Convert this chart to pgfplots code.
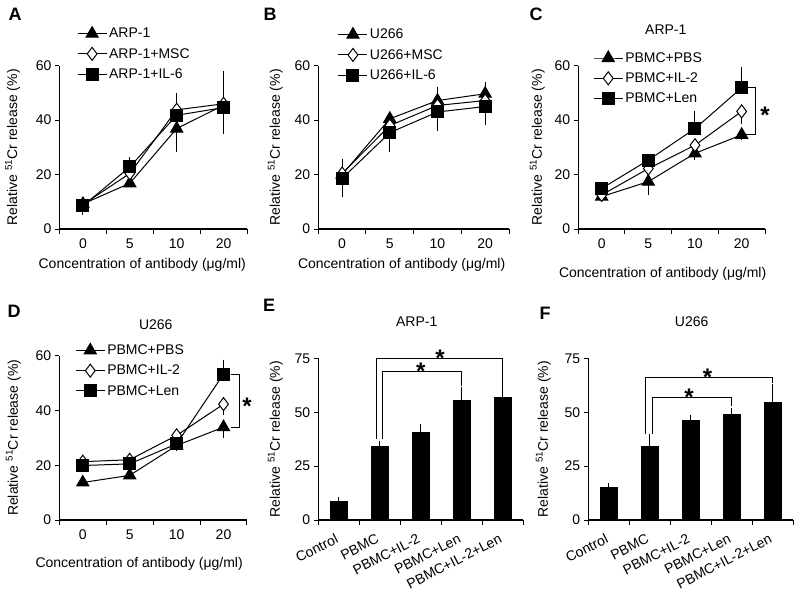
\documentclass[border=0pt]{standalone}
\usepackage{pgfplots}
\pgfplotsset{compat=1.18}
\usepackage{fontspec}
\setmainfont{Liberation Sans}
\newcommand{\fs}{\fontsize{14}{16}\selectfont}
\tikzset{sigstar/.style={font=\fontsize{24}{24}\selectfont\bfseries, inner sep=0pt, anchor=base, yshift=-13.5pt}}
\pgfplotsset{
  legend image code/.code={\draw[mark repeat=2,mark phase=2,#1] plot coordinates {(0pt,0pt) (14.5pt,0pt) (29pt,0pt)};},
  common/.style={
    scale only axis,
    axis lines=left,
    axis line style={-, line width=1.1pt, black},
    tick align=outside,
    major tick length=4.5pt,
    minor tick length=4.5pt,
    tick style={line width=1pt, black},
    major x tick style={draw=none},
    /pgf/number format/assume math mode=true,
    ticklabel style={font=\fs},
    ymin=0,
    clip=false,
    ylabel={Relative \textsuperscript{51}Cr release (\%)},
  },
  ylabpos/.style={every axis y label/.style={at={([xshift=-#1]axis description cs:0,0.5)}, rotate=90, anchor=center, font=\fs}},
  xlabpos/.style 2 args={every axis x label/.style={at={([xshift=#1,yshift=#2]axis description cs:0.5,0)}, anchor=center, font=\fs}},
  leg/.style 2 args={legend style={at={(axis description cs:#1,#2)}, anchor=west, draw=none, fill=none, inner sep=0pt, font=\fs, row sep=5pt}, legend cell align=left},
  linepanel/.style={
    common,
    xmin=-0.5, xmax=3.5,
    ymax=60, ytick={0,20,40,60},
    xtick={0,1,2,3}, xticklabels={0,5,10,20},
    minor xtick={-0.5,0.5,1.5,2.5,3.5},
    xticklabel style={yshift=-2pt},
    xlabel={Concentration of antibody (μg/ml)},
  },
  barpanel/.style={
    common,
    xmin=-0.5, xmax=4.5, ymax=75, ytick={0,25,50,75},
    xtick={0,1,2,3,4}, xticklabels={Control,PBMC,PBMC+IL-2,PBMC+Len,PBMC+IL-2+Len},
    minor xtick={-0.5,0.5,1.5,2.5,3.5,4.5},
    xticklabel style={rotate=27, anchor=north east, inner sep=0pt, xshift=-7.7pt, yshift=-5.7pt},
  },
  ebar/.style={forget plot, draw=none, mark=none, error bars/.cd, y explicit, y dir=#1, error bar style={draw=black, solid, line width=1pt}, error mark options={draw=black, line width=1pt, mark size=2.5pt}},
  tri/.style={black, line width=1pt, mark=triangle*, mark size=7pt, mark options={fill=black, solid}},
  dia/.style={black, line width=1pt, mark=diamond*, mark size=6.5pt, mark options={fill=white, solid}},
  sq/.style={black, line width=1pt, mark=square*, mark size=6pt, mark options={fill=black, solid}},
  bars/.style={ybar, bar width=17pt, fill=black, draw=black, error bars/.cd, y dir=plus, y explicit, error bar style={line width=1pt, black}, error mark options={line width=1pt, black, mark size=3.5pt}},
}
\begin{document}
\begin{tikzpicture}
\path[use as bounding box] (0,0) rectangle (800pt,-594pt);

% ---------- A ----------
\begin{axis}[linepanel, at={(59.5pt,-229pt)}, anchor=south west, width=187.5pt, height=163.3pt,
  ylabpos=47pt, xlabpos={-11pt}{-36pt}, leg={0.093}{1.072}]
\addplot[ebar=plus] coordinates {(0,9.2) +- (0,1) (2,43.8) +- (0,5.2) (3,46) +- (0,11) (1,22.8) +- (0,2.7)};
\addplot[ebar=minus] coordinates {(0,8.5) +- (0,2.3) (2,36.9) +- (0,7.7) (2,41.8) +- (0,9) (3,44.6) +- (0,8.6) (3,45.5) +- (0,8)};
\addplot[tri] coordinates {(0,9.2) (1,16.8) (2,36.9) (3,45.5)};
\addplot[dia] coordinates {(0,9) (1,20.4) (2,43.8) (3,46)};
\addplot[sq] coordinates {(0,8.5) (1,22.8) (2,41.8) (3,44.6)};
\legend{ARP-1,ARP-1+MSC,ARP-1+IL-6}
\end{axis}

% ---------- B ----------
\begin{axis}[linepanel, at={(318.3pt,-229pt)}, anchor=south west, width=190.7pt, height=163.3pt,
  ylabpos=43pt, xlabpos={-12pt}{-36pt}, leg={0.102}{1.066}]
\addplot[ebar=plus] coordinates {(0,20.4) +- (0,4.5) (1,40.5) +- (0,1) (2,47.2) +- (0,4.1) (3,49.7) +- (0,3.3)};
\addplot[ebar=minus] coordinates {(0,18.6) +- (0,5.8) (1,35.4) +- (0,6.2) (1,38) +- (0,7.2) (2,43) +- (0,5.9) (3,45) +- (0,5.7)};
\addplot[tri] coordinates {(0,20) (1,40.5) (2,47.2) (3,49.7)};
\addplot[dia] coordinates {(0,20.4) (1,38) (2,45.4) (3,47.2)};
\addplot[sq] coordinates {(0,18.6) (1,35.4) (2,43) (3,45)};
\legend{U266,U266+MSC,U266+IL-6}
\end{axis}

% ---------- C ----------
\begin{axis}[linepanel, at={(578.3pt,-229pt)}, anchor=south west, width=186.7pt, height=163.3pt,
  ylabpos=41pt, xlabpos={-9pt}{-45pt}, leg={0.079}{0.923}]
\addplot[ebar=plus] coordinates {(2,36.9) +- (0,5.5) (3,51.9) +- (0,6.6)};
\addplot[ebar=minus] coordinates {(0,11.9) +- (0,1) (1,17.4) +- (0,4) (2,27.8) +- (0,1.5) (3,34.6) +- (0,1) (3,43.2) +- (0,3.7)};
\addplot[tri] coordinates {(0,11.9) (1,17.4) (2,27.8) (3,34.6)};
\addplot[dia] coordinates {(0,12.5) (1,22.2) (2,30.8) (3,43.2)};
\addplot[sq] coordinates {(0,14.9) (1,25.3) (2,36.9) (3,51.9)};
\legend{PBMC+PBS,PBMC+IL-2,PBMC+Len}
\draw[line width=1pt] (axis cs:3.1,51.9) -- (axis cs:3.3,51.9) -- (axis cs:3.3,34.6) -- (axis cs:3.1,34.6);
\node[sigstar] at (axis cs:3.5,43.6) {*};
\end{axis}

% ---------- D ----------
\begin{axis}[linepanel, at={(59.3pt,-520pt)}, anchor=south west, width=187.7pt, height=164.3pt,
  ylabpos=46pt, xlabpos={-14pt}{-44pt}, leg={0.084}{0.909}]
\addplot[ebar=plus] coordinates {(3,53.3) +- (0,4.4)};
\addplot[ebar=minus] coordinates {(2,27.2) +- (0,1) (3,33.9) +- (0,3) (3,42.3) +- (0,3)};
\addplot[tri] coordinates {(0,13.7) (1,16.3) (2,27.2) (3,33.9)};
\addplot[dia] coordinates {(0,21.3) (1,22) (2,30.9) (3,42.3)};
\addplot[sq] coordinates {(0,19.9) (1,20.5) (2,27.8) (3,53.3)};
\legend{PBMC+PBS,PBMC+IL-2,PBMC+Len}
\draw[line width=1pt] (axis cs:3.15,53.3) -- (axis cs:3.35,53.3) -- (axis cs:3.35,33.9) -- (axis cs:3.15,33.9);
\node[sigstar] at (axis cs:3.5,43.3) {*};
\end{axis}

% ---------- E ----------
\begin{axis}[barpanel, at={(318.3pt,-520pt)}, anchor=south west, width=205pt, height=161.7pt, ylabpos=43pt]
\addplot[bars] coordinates {(0,8.8) +- (0,0.2) (1,34.2) +- (0,0.9) (2,40.6) +- (0,2.1) (3,55.5) +- (0,4.5) (4,56.9) +- (0,4.1)};
\draw[line width=1pt] (axis cs:1.065,37.4) -- (axis cs:1.065,68.8) -- (axis cs:3,68.8) -- (axis cs:3,62.1);
\draw[line width=1pt] (axis cs:0.93,37.4) -- (axis cs:0.93,75) -- (axis cs:4,75) -- (axis cs:4,62.6);
\node[sigstar] at (axis cs:2.0,71.4) {*};
\node[sigstar] at (axis cs:2.47,77.6) {*};
\end{axis}

% ---------- F ----------
\begin{axis}[barpanel, at={(588.3pt,-520pt)}, anchor=south west, width=205pt, height=161.7pt, ylabpos=45pt]
\addplot[bars] coordinates {(0,15.3) +- (0,0.2) (1,34.2) +- (0,4.1) (2,46.2) +- (0,0.8) (3,49.1) +- (0,1.3) (4,54.6) +- (0,6.9)};
\draw[line width=1pt] (axis cs:1.07,40) -- (axis cs:1.07,56.9) -- (axis cs:3,56.9) -- (axis cs:3,53);
\draw[line width=1pt] (axis cs:0.9,40) -- (axis cs:0.9,66) -- (axis cs:4,66) -- (axis cs:4,63.7);
\node[sigstar] at (axis cs:1.96,59.5) {*};
\node[sigstar] at (axis cs:2.41,68.8) {*};
\end{axis}

% ---------- letters and titles ----------
\begin{scope}[every node/.style={font=\fontsize{18}{18}\selectfont\bfseries}]
\node at (15pt,-14.5pt) {A};
\node at (270pt,-14.5pt) {B};
\node at (536pt,-14.5pt) {C};
\node at (14pt,-311.7pt) {D};
\node at (269pt,-305pt) {E};
\node at (545pt,-313.3pt) {F};
\end{scope}
\node[font=\fs] at (665.8pt,-30pt) {ARP-1};
\node[font=\fs] at (155.8pt,-325pt) {U266};
\node[font=\fs] at (416.7pt,-321.7pt) {ARP-1};
\node[font=\fs] at (691.7pt,-321.7pt) {U266};
\end{tikzpicture}
\end{document}
